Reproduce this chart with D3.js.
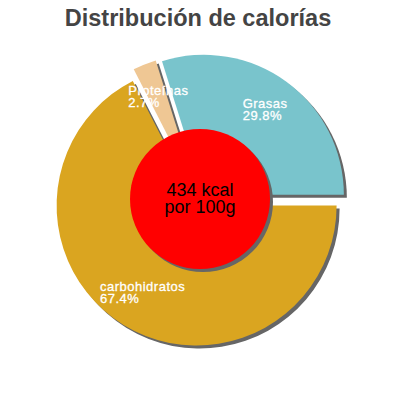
<!DOCTYPE html>
<html>
<head>
<meta charset="utf-8">
<script src="https://cdn.jsdelivr.net/npm/d3@7"></script>
<style>
  body { margin: 0; background: #fff; }
  text { font-family: "Liberation Sans", Arial, sans-serif; }
</style>
</head>
<body>
<script>
// datos
const CATEGORIES = ["carbohidratos", "Proteínas", "Grasas"]
const VALUES = [67.4, 2.7, 29.8]
const PCT_LABELS = ["67.4%", "2.7%", "29.8%"]
const COLORS = ["#daa520", "#efc794", "#79c4cc"]
const CENTER_LINES = ["434 kcal", "por 100g"]

const WIDTH = 400
const HEIGHT = 400
const CX = 200
const CY = 200
const RADIUS = 140
const HOLE = 70
const EXPLODE = 6.5
const SHADOW = 3

const svg = d3.select("body").append("svg")
  .attr("width", WIDTH).attr("height", HEIGHT)

svg.append("text")
  .attr("x", 198).attr("y", 26)
  .attr("text-anchor", "middle")
  .attr("font-size", 23.5).attr("font-weight", "bold")
  .attr("fill", "#444")
  .text("Distribución de calorías")

const DATA = CATEGORIES.map((c, i) => ({ name: c, value: VALUES[i], pct: PCT_LABELS[i], color: COLORS[i] }))

// el primer sector empieza a las 3 en punto y va en sentido horario
const pie = d3.pie().sort(null).value(d => d.value)
  .startAngle(Math.PI / 2).endAngle(Math.PI / 2 + 2 * Math.PI)
const arcs = pie(DATA)
const arc = d3.arc().innerRadius(0).outerRadius(RADIUS)

const g = svg.append("g").attr("transform", `translate(${CX},${CY})`)

const offset = d => {
  const a = (d.startAngle + d.endAngle) / 2
  return [Math.sin(a) * EXPLODE, -Math.cos(a) * EXPLODE]
}

// sombras
g.selectAll("path.shadow").data(arcs).enter().append("path")
  .attr("class", "shadow")
  .attr("d", arc)
  .attr("fill", "#666")
  .attr("transform", d => { const o = offset(d); return `translate(${o[0] + SHADOW},${o[1] + SHADOW})` })

g.selectAll("path.slice").data(arcs).enter().append("path")
  .attr("class", "slice")
  .attr("d", arc)
  .attr("fill", d => d.data.color)
  .attr("transform", d => { const o = offset(d); return `translate(${o[0]},${o[1]})` })

// etiquetas
const LABEL_R = 110
arcs.forEach(d => {
  const a = (d.startAngle + d.endAngle) / 2
  const px = Math.sin(a) * LABEL_R
  const py = -Math.cos(a) * LABEL_R
  const t = g.append("text")
    .attr("fill", "#fff")
    .attr("font-size", 13)
    .attr("letter-spacing", 0.5)
    .attr("stroke", "#fff").attr("stroke-width", 0.3)
  const l1 = t.append("tspan").attr("y", py - 3).text(d.data.name)
  const l2 = t.append("tspan").attr("y", py + 9).text(d.data.pct)
  const w = Math.max(l1.node().getComputedTextLength(), l2.node().getComputedTextLength())
  l1.attr("x", px - w / 2)
  l2.attr("x", px - w / 2)
})

// círculo central
g.append("circle").attr("cx", SHADOW).attr("cy", SHADOW - 1).attr("r", HOLE).attr("fill", "#666")
g.append("circle").attr("cx", 0).attr("cy", -1).attr("r", HOLE).attr("fill", "#ff0000")

g.append("text")
  .attr("text-anchor", "middle")
  .attr("font-size", 18)
  .attr("fill", "#000")
  .selectAll("tspan").data(CENTER_LINES).enter().append("tspan")
  .attr("x", 0)
  .attr("y", (d, i) => -4 + i * 17)
  .text(d => d)
</script>
</body>
</html>
